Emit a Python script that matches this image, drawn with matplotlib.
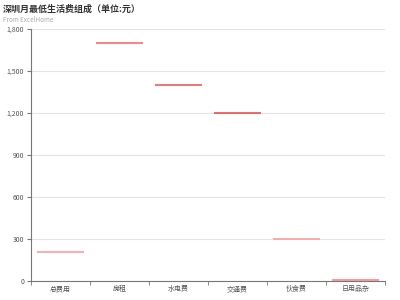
import matplotlib.pyplot as plt
import numpy as np

plt.rcParams['font.family'] = ['Noto Sans CJK SC', 'DejaVu Sans']

categories = ['总费用', '房租', '水电费', '交通费', '伙食费', '日用品杂']
values = [205, 1700, 1400, 1200, 300, 5]
colors = ['#ff9c9c', '#ff6b6b', '#f25a5a', '#ef4c4c', '#ff9e9e', '#ff8585']

fig = plt.figure(figsize=(4, 3), dpi=100)
ax = fig.add_axes([0.0775, 0.063, 0.885, 0.84])

x = np.arange(len(categories))
ax.hlines(values, x - 0.4, x + 0.4, colors=colors, linewidth=1.2, zorder=3)

ax.set_xlim(-0.5, len(categories) - 0.5)
ax.set_ylim(0, 1800)
ax.set_yticks(np.arange(0, 1801, 300))
ax.set_yticklabels([f'{v:,}' for v in range(0, 1801, 300)])
ax.set_xticks(x)
ax.set_xticklabels(categories)
ax.set_xticks(np.arange(-0.5, len(categories)), minor=True)
ax.tick_params(axis='x', which='major', length=0, labelsize=5, colors='#555555', pad=3)
ax.tick_params(axis='x', which='minor', length=3, color='#777777')
ax.tick_params(axis='y', length=3, labelsize=5, colors='#555555', color='#777777', pad=2)

ax.grid(axis='y', color='#e4e4e4', linewidth=0.8)
ax.set_axisbelow(True)
for s in ['top', 'right']:
    ax.spines[s].set_visible(False)
for s in ['left', 'bottom']:
    ax.spines[s].set_color('#777777')
    ax.spines[s].set_linewidth(0.8)

fig.text(0.008, 0.985, '深圳月最低生活费组成（单位:元）', fontsize=6.5, fontweight='bold',
         color='#333333', va='top', ha='left')
fig.text(0.008, 0.945, 'From ExcelHome', fontsize=4.5, color='#aaaaaa', va='top', ha='left')

fig.savefig('out.png', dpi=100)
